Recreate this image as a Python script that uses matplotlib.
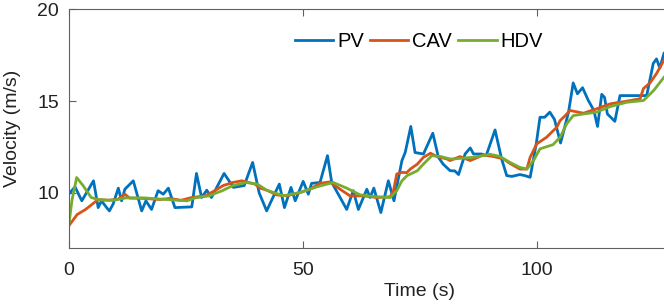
import numpy as np
import matplotlib
matplotlib.use("Agg")
from matplotlib import pyplot as plt

# ----------
# Data

pv_t = [0, 1.35, 2.8, 5.3, 6.3, 7.0, 8.1, 8.7, 9.5, 10.6, 11.3, 12.0, 13.8, 15.6, 16.5,
        17.7, 19.1, 20.2, 21.3, 22.7, 26.3, 27.3, 28.4, 29.5, 30.5, 33.2, 35.2, 37.5,
        39.3, 40.7, 42.3, 43.3, 45.0, 46.1, 47.5, 48.4, 50.1, 51.2, 51.9, 53.7, 55.3,
        56.2, 58.0, 59.4, 60.8, 61.9, 63.7, 64.4, 65.2, 66.7, 68.3, 69.5, 71.2, 71.9,
        73.1, 74.0, 75.8, 77.8, 79.0, 80.0, 81.5, 82.5, 83.3, 84.7, 85.8, 86.5, 88.2,
        89.2, 91.1, 92.5, 93.6, 94.7, 96.4, 97.5, 98.6, 99.9, 100.7, 101.7, 102.8,
        103.8, 105.1, 105.8, 106.8, 107.8, 108.7, 109.8, 111.0, 112.2, 113.0, 113.9,
        114.5, 115.1, 116.7, 117.8, 122.1, 123.5, 124.9, 125.6, 126.3, 127.2]
pv_v = [9.93, 10.33, 9.57, 10.66, 9.2, 9.57, 9.2, 9.02, 9.4, 10.26, 9.57, 10.2, 10.66, 9.02, 9.57,
        9.1, 10.12, 9.93, 10.26, 9.2, 9.24, 11.06, 9.75, 10.15, 9.75, 11.06, 10.3, 10.4,
        11.66, 10.0, 9.02, 9.57, 10.48, 9.2, 10.3, 9.57, 10.63, 9.93, 10.52, 10.57, 12.03,
        10.57, 9.75, 9.1, 10.12, 9.1, 10.2, 9.75, 10.26, 8.93, 10.66, 9.57, 11.76, 12.2,
        13.62, 12.2, 12.12, 13.25, 11.94, 11.57, 11.21, 11.2, 11.0, 12.12, 12.45, 12.12, 12.12,
        12.03, 13.43, 11.85, 10.94, 10.9, 11.0, 10.94, 10.85, 12.67, 14.12, 14.12, 14.4,
        14.0, 12.72, 13.4, 14.4, 15.99, 15.4, 15.73, 15.05, 14.5, 13.62, 15.37,
        15.2, 14.3, 13.9, 15.3, 15.3, 15.3, 17.05, 17.3, 16.8, 17.6]

cav_t = [0, 1.8, 3.6, 5.0, 6.3, 8.5, 10.5, 12.0, 13.0, 16.0, 19.5, 21.6, 24.0, 26.3, 29.2,
         31.2, 33.0, 35.1, 37.0, 39.8, 40.9, 42.3, 44.5, 46.6, 49.4, 51.5, 53.7, 55.8,
         58.0, 60.1, 63.0, 65.8, 68.7, 69.4, 70.1, 71.2, 72.2, 73.0, 74.5, 75.8, 77.3,
         78.7, 80.8, 81.5, 83.6, 85.8, 88.6, 90.8, 92.9, 94.3, 96.4, 97.9, 98.6, 100.0,
         102.1, 104.3, 105.0, 106.1, 107.1, 110.0, 112.8, 115.7, 119.3, 122.1, 122.8,
         124.2, 125.6, 127.2]
cav_v = [8.2, 8.82, 9.1, 9.38, 9.64, 9.6, 9.65, 9.93, 9.72, 9.7, 9.64, 9.7, 9.6, 9.75, 9.84,
         10.12, 10.4, 10.57, 10.66, 10.48, 10.26, 10.15, 9.89, 9.84, 10.02, 10.2, 10.52, 10.6,
         10.2, 9.84, 9.84, 9.75, 9.79, 10.12, 11.03, 11.12, 11.1, 11.3, 11.57, 11.94, 12.16,
         11.98, 11.85, 11.76, 11.98, 11.76, 12.07, 11.98, 11.85, 11.6, 11.3, 11.3, 11.94, 12.67,
         13.03, 13.58, 13.94, 14.21, 14.49, 14.34, 14.58, 14.85, 15.0, 15.13, 15.68,
         15.99, 16.5, 17.23]

hdv_t = [0, 0.7, 1.7, 3.1, 4.8, 6.6, 9.5, 12.3, 16.0, 20.0, 23.3, 25.3, 27.0, 30.0, 32.8,
         35.0, 37.9, 40.3, 42.3, 45.9, 49.4, 53.0, 56.5, 59.4, 62.3, 65.8, 68.7, 70.1,
         71.2, 72.3, 74.5, 75.8, 77.6, 79.5, 81.5, 82.2, 86.4, 90.0, 92.0, 94.3, 96.4,
         97.9, 99.3, 100.7, 103.5, 105.0, 106.4, 107.8, 110.0, 112.8, 115.7, 119.3,
         122.8, 125.0, 127.2]
hdv_v = [8.2, 9.6, 10.84, 10.39, 9.75, 9.62, 9.6, 9.73, 9.73, 9.66, 9.6, 9.57, 9.73, 9.84, 10.12,
         10.39, 10.57, 10.48, 10.15, 9.84, 10.02, 10.33, 10.57, 10.26, 9.89, 9.79, 9.75, 10.12,
         10.66, 10.94, 11.21, 11.57, 12.03, 11.98, 11.85, 11.85, 11.94, 12.1, 12.0, 11.66, 11.39,
         11.3, 11.76, 12.4, 12.63, 13.03, 13.76, 14.21, 14.3, 14.4, 14.7, 14.94,
         15.03, 15.58, 16.3]

labels = ["PV", "CAV", "HDV"]
colors = ["#0072BD", "#D95319", "#77AC30"]

# ----------
# Figure

plt.rcParams['font.family'] = ['Liberation Sans Narrow', 'Liberation Sans', 'DejaVu Sans']

fig = plt.figure(figsize=(6.64, 3.05), dpi=100)
ax = fig.add_axes([68.7 / 664, 1 - 248 / 305, 1 - 68.7 / 664, (248 - 9.3) / 305])

for t, v, lab, c in zip([pv_t, cav_t, hdv_t], [pv_v, cav_v, hdv_v], labels, colors):
    ax.plot(t, v, color=c, lw=2.0, label=lab)

ax.set_xlim(0, 127.2)
ax.set_ylim(7, 20)
ax.set_xticks([0, 50, 100])
ax.set_yticks([10, 15, 20])

axcol = "#606060"
for s in ["left", "bottom", "top"]:
    ax.spines[s].set_color(axcol)
    ax.spines[s].set_linewidth(0.8)
ax.spines["right"].set_visible(False)
ax.tick_params(direction="in", length=5, width=0.8, color=axcol, labelsize=14,
               labelcolor="#222222", top=True)
ax.tick_params(axis="x", pad=10)
ax.tick_params(axis="y", pad=7)

ax.set_xlabel("Time (s)", fontsize=14, color="#222222")
ax.set_ylabel("Velocity (m/s)", fontsize=14, color="#222222")
ax.xaxis.set_label_coords((419 - 68.7) / (664 - 68.7), -0.145)
ax.yaxis.set_label_coords(-0.08, 0.5)

ax.legend(loc="center", bbox_to_anchor=((419 - 68.7) / (664 - 68.7), 0.865), ncol=3,
          frameon=False, fontsize=14.5, handlelength=1.9, handletextpad=0.2,
          columnspacing=0.3, borderpad=0.1)

fig.savefig("out.png", dpi=100)
